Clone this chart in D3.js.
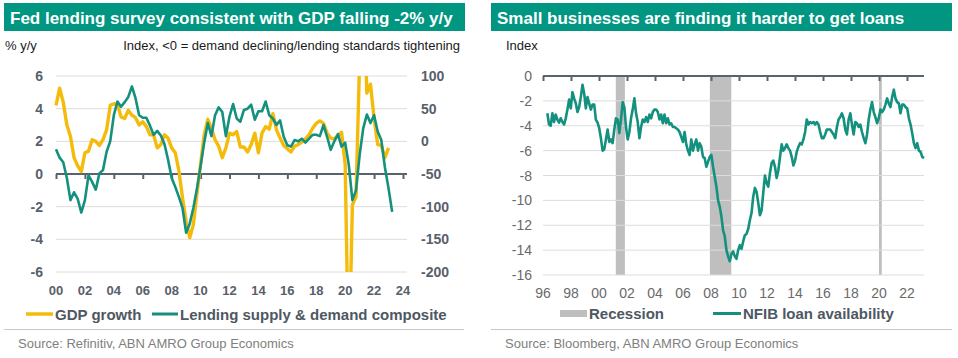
<!DOCTYPE html>
<html><head><meta charset="utf-8">
<script src="https://cdn.jsdelivr.net/npm/d3@7/dist/d3.min.js"></script>
<style>
body{margin:0;background:#fff;}
svg{display:block;font-family:"Liberation Sans",Arial,Helvetica,sans-serif;}
</style></head>
<body><svg id="c" width="958" height="358"></svg>
<script>
// ---------- DATA ----------
// Left chart: quarterly, starting 2000Q1
const gdpStart = 2000;
const gdpGrowth = [4.2,5.25,4.4,3.0, 2.3,1.0,0.5,0.15, 1.3,1.4,2.1,2.0, 1.75,2.1,2.7,4.2,
  4.3,4.25,3.5,3.4, 3.9,3.6,3.45,3.0, 3.2,2.9,2.4,2.4, 1.6,1.8,2.4,2.2,
  1.6,1.3,0.2,-1.45, -2.9,-3.9,-3.1,-1.2, 0.6,2.4,3.35,2.8, 2.1,1.7,1.0,1.6,
  2.5,2.4,2.6,1.65, 1.65,1.35,1.8,2.5, 1.3,2.5,2.9,2.75, 3.7,2.7,2.2,1.75,
  1.55,1.35,1.7,1.8, 1.95,2.15,2.4,2.8, 3.1,3.25,3.1,2.5, 2.2,2.15,2.35,2.55,
  0.6,-12,-1.9,-1.4, 7,12.2,4.95,5.5, 3.4,1.8,1.75,1.0, 1.6];
const lendStart = 2000;
const lendingComposite = [-12,-25,-32,-56, -90,-78,-88,-109, -90,-52,-62,-74, -49,-44,-16,0,
  40,61,53,60, 68,84,66,40, 36,36,24,10, 16,9,-4,-28,
  -56,-70,-85,-102, -140,-126,-102,-72, -38,-2,28,8, 40,52,45,8,
  38,57,35,30, 48,50,56,33, 46,46,61,40, 35,25,32,7,
  -6,-8,2,0, 4,-2,4,10, 10,8,25,7, -13,0,11,-8,
  -2,-36,-90,-75, -21,20,41,28, 40,15,2,-40, -72,-108];
const leftYTicks = [-6,-4,-2,0,2,4,6];
const rightYTicks = [-200,-150,-100,-50,0,50,100];
const leftXTicks = [2000,2002,2004,2006,2008,2010,2012,2014,2016,2018,2020,2022,2024];

// Right chart: NFIB loan availability (approx. every ~1.4 months, 1996.3 - 2023.2)
const nfibFirst = 1996.31, nfibLast = 2023.21;
const nfibLoan = [-3.0,-3.9,-4.0,-3.0,-3.7,-3.1,-3.5,-3.75,-3.4,-3.7,
  -3.9,-3.4,-2.7,-1.9,-2.6,-1.3,-1.8,-2.2,-2.9,-2.5,
  -1.7,-0.7,-1.4,-2.6,-1.7,-2.2,-2.7,-2.3,-2.3,-3.5,
  -3.75,-4.2,-5.0,-6.0,-5.9,-5.1,-4.3,-5.3,-5.1,-5.4,
  -4.3,-3.4,-3.5,-4.6,-3.5,-2.1,-2.5,-4.1,-5.1,-4.5,
  -3.4,-2.7,-1.8,-3.0,-3.7,-5.0,-4.1,-3.5,
  -3.7,-3.3,-3.7,-3.1,-3.4,-2.9,-2.7,-2.7,-2.9,-3.5,
  -3.1,-3.8,-3.1,-3.8,-3.4,-3.9,-3.8,-4.1,-4.1,-4.2,
  -4.3,-4.5,-4.9,-5.3,-4.5,-5.5,-6.0,-6.35,-5.1,-6.0,
  -5.5,-5.1,-6.0,-5.4,-5.7,-6.5,-6.6,-7.3,-6.9,-6.5,
  -6.35,-7.3,-8.1,-8.9,-10.0,-10.5,-11.3,-12.4,-12.9,-14.0,
  -14.5,-14.9,-14.3,-14.1,-14.5,-14.7,-14.0,-13.6,-13.9,-13.3,
  -12.8,-12.7,-12.3,-11.6,-11.0,-9.7,-9.0,-9.3,-10.2,-11.2,
  -10.8,-9.4,-8.0,-8.6,-8.9,-7.8,-7.0,-6.8,-7.3,-8.2,
  -7.6,-6.5,-5.5,-6.0,-5.8,-5.5,-5.8,-6.0,-6.5,-7.2,
  -6.8,-6.1,-5.7,-5.4,-5.5,-5.1,-4.5,-3.5,-3.9,-3.7,
  -3.8,-3.7,-3.9,-3.7,-3.9,-4.5,-5.0,-5.0,-4.7,-4.3,
  -4.3,-4.3,-4.5,-4.7,-5.0,-4.1,-3.5,-3.3,-3.0,-3.4,
  -4.3,-4.7,
  -3.5,-3.0,-3.9,-4.7,-3.7,-3.8,-4.1,-3.9,-4.5,-5.0,
  -5.4,-4.7,-3.5,-2.7,-2.1,-2.9,-3.3,-3.8,-3.4,-2.7,
  -2.9,-2.7,-2.3,-1.8,-2.2,-2.5,-1.7,-1.1,-1.8,-2.1,
  -2.2,-3.0,-2.3,-2.3,-2.5,-2.6,
  -3.4,-3.9,-4.6,-5.4,-5.8,-5.4,-6.0,-6.1,-6.5,-6.6];
const recessionStart = [2001.2, 2007.92, 2020.0];
const recessionEnd   = [2001.85, 2009.45, 2020.2];
const rightYTicksR = [-16,-14,-12,-10,-8,-6,-4,-2,0];
const rightXTicks = [1996,1998,2000,2002,2004,2006,2008,2010,2012,2014,2016,2018,2020,2022];

// ---------- STYLE ----------
const TEAL_BAR = "#009682", TEAL = "#14917e", YELLOW = "#f4bb0a";
const GRID = "#dcdcdc", AXIS = "#58636d", TICKTXT = "#58606a", GREYTXT = "#6a6a6a";
const svg = d3.select("#c");
const yy = d => String(d % 100).padStart(2, "0");

// ---------- LEFT PANEL ----------
svg.append("rect").attr("x",4).attr("y",3).attr("width",461).attr("height",28).attr("fill",TEAL_BAR);
svg.append("text").attr("x",10).attr("y",23.5).attr("fill","#fff").attr("font-weight","bold")
  .attr("font-size",17).text("Fed lending survey consistent with GDP falling -2% y/y");
svg.append("text").attr("x",5).attr("y",50).attr("font-size",13).attr("fill","#1a1a1a").text("% y/y");
svg.append("text").attr("x",460).attr("y",50).attr("font-size",13).attr("fill","#1a1a1a")
  .attr("text-anchor","end").text("Index, <0 = demand declining/lending standards tightening");

const xL = d3.scaleLinear().domain([2000,2024]).range([56,403]);
const yL = d3.scaleLinear().domain([-6,6]).range([272,76]);
const yR = d3.scaleLinear().domain([-200,100]).range([272,76]);
const gL = svg.append("g");
gL.selectAll(".gl").data(leftYTicks.filter(d=>d!==0)).join("line")
  .attr("x1",56).attr("x2",407).attr("y1",d=>yL(d)).attr("y2",d=>yL(d))
  .attr("stroke",GRID).attr("stroke-width",1);
gL.selectAll(".yl").data(leftYTicks).join("text")
  .attr("x",43).attr("y",d=>yL(d)+5).attr("text-anchor","end").attr("font-size",14)
  .attr("font-weight","bold").attr("fill",TICKTXT).text(d=>d);
gL.selectAll(".yr").data(rightYTicks).join("text")
  .attr("x",421).attr("y",d=>yR(d)+5).attr("font-size",14)
  .attr("font-weight","bold").attr("fill",TICKTXT).text(d=>d);
// zero axis with ticks
const xAxisL = d3.axisBottom(xL).tickValues(leftXTicks).tickSize(5).tickFormat("");
const axL = gL.append("g").attr("transform",`translate(0,${yL(0)})`).call(xAxisL);
axL.select(".domain").remove();
axL.selectAll(".tick line").attr("stroke",AXIS).attr("stroke-width",2);
gL.append("line").attr("x1",56).attr("x2",407).attr("y1",yL(0)).attr("y2",yL(0))
  .attr("stroke",AXIS).attr("stroke-width",2.2);
gL.selectAll(".xl").data(leftXTicks).join("text")
  .attr("x",d=>xL(d)).attr("y",295).attr("text-anchor","middle").attr("font-size",13)
  .attr("font-weight","bold").attr("fill",TICKTXT).text(yy);

svg.append("clipPath").attr("id","clipL").append("rect").attr("x",50).attr("y",76)
  .attr("width",360).attr("height",196);
const gdpData = gdpGrowth.map((v,i)=>[gdpStart+i/4, v]);
const lendData = lendingComposite.map((v,i)=>[lendStart+i/4, v]);
gL.append("path").datum(gdpData).attr("clip-path","url(#clipL)")
  .attr("d",d3.line().x(d=>xL(d[0])).y(d=>yL(d[1])))
  .attr("fill","none").attr("stroke",YELLOW).attr("stroke-width",3.4).attr("stroke-linejoin","round");
gL.append("path").datum(lendData).attr("clip-path","url(#clipL)")
  .attr("d",d3.line().x(d=>xL(d[0])).y(d=>yR(d[1])))
  .attr("fill","none").attr("stroke",TEAL).attr("stroke-width",2.6).attr("stroke-linejoin","round");

// legend
svg.append("line").attr("x1",26).attr("x2",53).attr("y1",314).attr("y2",314).attr("stroke",YELLOW).attr("stroke-width",3.5);
svg.append("text").attr("x",55).attr("y",319.5).attr("font-size",15).attr("font-weight","bold").attr("fill","#4e5862").text("GDP growth");
svg.append("line").attr("x1",152).attr("x2",178).attr("y1",314).attr("y2",314).attr("stroke",TEAL).attr("stroke-width",3);
svg.append("text").attr("x",180).attr("y",319.5).attr("font-size",15).attr("font-weight","bold").attr("fill","#4e5862").text("Lending supply & demand composite");
svg.append("line").attr("x1",4).attr("x2",464).attr("y1",329.5).attr("y2",329.5).attr("stroke","#c8c8c8");
svg.append("text").attr("x",18).attr("y",348).attr("font-size",13).attr("fill","#808080").text("Source: Refinitiv, ABN AMRO Group Economics");

// ---------- RIGHT PANEL ----------
svg.append("rect").attr("x",491).attr("y",3).attr("width",461).attr("height",28).attr("fill",TEAL_BAR);
svg.append("text").attr("x",497).attr("y",23.5).attr("fill","#fff").attr("font-weight","bold")
  .attr("font-size",17).text("Small businesses are finding it harder to get loans");
svg.append("text").attr("x",506).attr("y",50).attr("font-size",13).attr("fill","#1a1a1a").text("Index");

const x2 = d3.scaleLinear().domain([1996,2022]).range([543,907]);
const y2 = d3.scaleLinear().domain([-16,0]).range([275,76]);
const g2 = svg.append("g");
g2.selectAll(".rec").data(recessionStart).join("rect")
  .attr("x",(d)=>x2(d)).attr("width",(d,i)=>x2(recessionEnd[i])-x2(d))
  .attr("y",y2(0)).attr("height",y2(-16)-y2(0)).attr("fill","#bfbfbf");
g2.selectAll(".gl").data(rightYTicksR.filter(d=>d!==0)).join("line")
  .attr("x1",543).attr("x2",924).attr("y1",d=>y2(d)).attr("y2",d=>y2(d))
  .attr("stroke",GRID).attr("stroke-width",1);
g2.selectAll(".yl").data(rightYTicksR).join("text")
  .attr("x",532).attr("y",d=>y2(d)+5).attr("text-anchor","end").attr("font-size",14)
  .attr("fill",GREYTXT).text(d=>d);
const ax2 = g2.append("g").attr("transform",`translate(0,${y2(0)})`)
  .call(d3.axisBottom(x2).tickValues(rightXTicks).tickSize(5).tickFormat(""));
ax2.select(".domain").remove();
ax2.selectAll(".tick line").attr("stroke",AXIS).attr("stroke-width",2);
g2.append("line").attr("x1",543).attr("x2",924).attr("y1",y2(0)).attr("y2",y2(0))
  .attr("stroke",AXIS).attr("stroke-width",2.2);
g2.selectAll(".xl").data(rightXTicks).join("text")
  .attr("x",d=>x2(d)).attr("y",298).attr("text-anchor","middle").attr("font-size",14)
  .attr("fill",GREYTXT).text(yy);
const nStep = (nfibLast - nfibFirst)/(nfibLoan.length-1);
const nfibData = nfibLoan.map((v,i)=>[nfibFirst+i*nStep, v]);
g2.append("path").datum(nfibData)
  .attr("d",d3.line().x(d=>x2(d[0])).y(d=>y2(d[1])))
  .attr("fill","none").attr("stroke",TEAL).attr("stroke-width",2.6).attr("stroke-linejoin","round");

svg.append("rect").attr("x",560).attr("y",310).attr("width",27).attr("height",7).attr("fill","#bfbfbf");
svg.append("text").attr("x",589).attr("y",319).attr("font-size",15).attr("font-weight","bold").attr("fill","#4e5862").text("Recession");
svg.append("line").attr("x1",713).attr("x2",741).attr("y1",313.5).attr("y2",313.5).attr("stroke",TEAL).attr("stroke-width",3);
svg.append("text").attr("x",743).attr("y",319).attr("font-size",15).attr("font-weight","bold").attr("fill","#4e5862").text("NFIB loan availability");
svg.append("line").attr("x1",491).attr("x2",952).attr("y1",329.5).attr("y2",329.5).attr("stroke","#c8c8c8");
svg.append("text").attr("x",505).attr("y",348).attr("font-size",13).attr("fill","#808080").text("Source: Bloomberg, ABN AMRO Group Economics");
</script></body></html>
